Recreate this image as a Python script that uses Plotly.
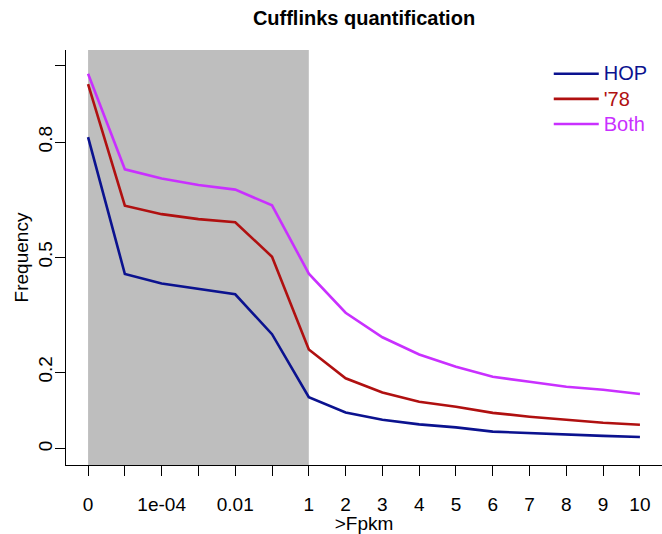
import plotly.graph_objects as go

# Categories (>Fpkm thresholds) and tick labels shown
categories = ["0", "1e-05", "1e-04", "0.001", "0.01", "0.1", "1",
              "2", "3", "4", "5", "6", "7", "8", "9", "10"]
tick_labels = ["0", "", "1e-04", "", "0.01", "", "1",
               "2", "3", "4", "5", "6", "7", "8", "9", "10"]

hop = [0.813, 0.456, 0.431, 0.417, 0.403, 0.299, 0.135, 0.095,
       0.076, 0.064, 0.056, 0.045, 0.041, 0.037, 0.034, 0.031]
s78 = [0.951, 0.634, 0.612, 0.599, 0.591, 0.501, 0.259, 0.184,
       0.147, 0.123, 0.110, 0.094, 0.084, 0.076, 0.068, 0.063]
both = [0.978, 0.729, 0.705, 0.688, 0.676, 0.635, 0.457, 0.355,
        0.291, 0.246, 0.214, 0.188, 0.175, 0.162, 0.154, 0.143]

y_ticks = [0, 0.2, 0.5, 0.8, 1.0]
y_tick_labels = ["0", "0.2", "0.5", "0.8", ""]

series = [("HOP", hop, "#0B128F"), ("'78", s78, "#B01010"), ("Both", both, "#C930FF")]

x = list(range(len(categories)))
FONT = "Liberation Sans, Arial, Helvetica, sans-serif"
FS = 19

fig = go.Figure()
for name, vals, col in series:
    fig.add_trace(go.Scatter(
        x=x, y=vals, mode="lines", line=dict(color=col, width=2.6),
        name=f"<span style='color:{col};font-size:20px'>{name}</span>",
    ))

# shaded region for thresholds 0 .. 1
fig.add_shape(type="rect", xref="x", yref="paper", x0=0, x1=categories.index("1"),
              y0=0, y1=1, fillcolor="#BEBEBE", line=dict(width=0), layer="below")

fig.update_layout(
    width=662, height=534,
    margin=dict(l=66, r=0, t=50, b=69, autoexpand=False),
    paper_bgcolor="white", plot_bgcolor="white",
    font=dict(family=FONT, size=FS, color="black"),
    title=dict(text="<b>Cufflinks quantification</b>", x=(66 + 662) / 2 / 662,
               xanchor="center", y=1 - 18 / 534, yanchor="middle",
               font=dict(size=20), automargin=False),
    showlegend=True,
    legend=dict(x=0.81, y=0.985, xanchor="left", yanchor="top",
                bgcolor="rgba(0,0,0,0)", font=dict(size=17),
                tracegroupgap=0, itemwidth=45),
)
fig.update_xaxes(
    range=[-0.6, 15.6], tickmode="array", tickvals=x, ticktext=tick_labels,
    showline=True, linecolor="black", linewidth=1.3, mirror=False,
    ticks="outside", ticklen=10, tickwidth=1.3, tickcolor="black",
    ticklabelstandoff=12, automargin=False,
    showgrid=False, zeroline=False,
    title=dict(text=">Fpkm", standoff=0, font=dict(size=FS)),
)
fig.update_yaxes(
    range=[-0.042, 1.04], tickmode="array", tickvals=y_ticks, ticktext=y_tick_labels,
    tickangle=-90, automargin=False, ticklabelstandoff=-5,
    showline=True, linecolor="black", linewidth=1.3,
    ticks="outside", ticklen=10, tickwidth=1.3, tickcolor="black",
    showgrid=False, zeroline=False,
    title=dict(text="Frequency", standoff=1, font=dict(size=FS)),
)

fig.write_html("out.html", config={"displayModeBar": False},
               post_script="document.body.style.margin='0';")
